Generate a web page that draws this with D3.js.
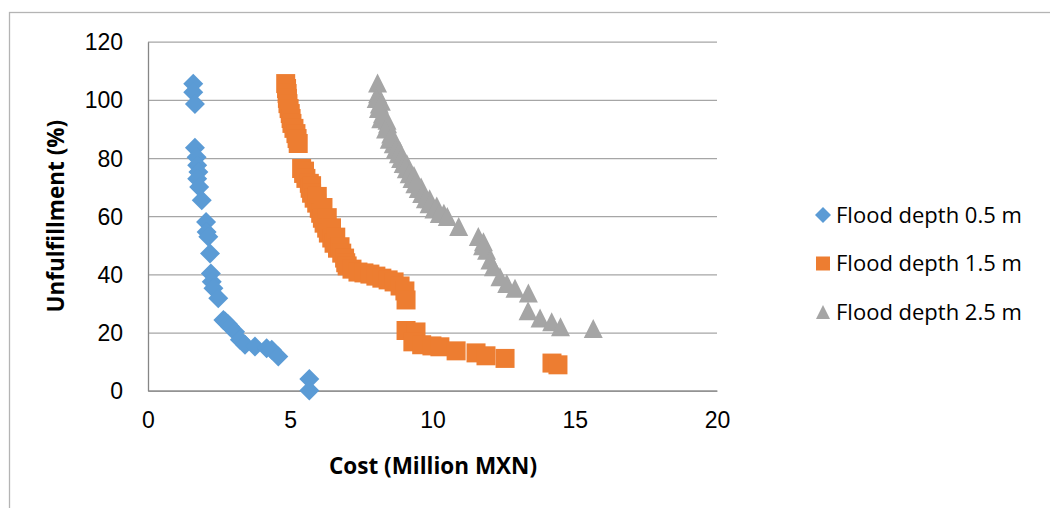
<!DOCTYPE html>
<html>
<head>
<meta charset="utf-8">
<script src="https://cdn.jsdelivr.net/npm/d3@7"></script>
<style>
  body { margin: 0; background: #fff; }
  svg { font-family: "Open Sans", sans-serif; }
</style>
</head>
<body>
<script>
let w = 1050;
let h = 508;

// data
let seriesNames = ["Flood depth 0.5 m", "Flood depth 1.5 m", "Flood depth 2.5 m"];
let seriesColors = ["#5b9bd5", "#ed7d31", "#a5a5a5"];
let xTicks = [0, 5, 10, 15, 20];
let yTicks = [0, 20, 40, 60, 80, 100, 120];

let blueCost = [1.59, 1.59, 1.65, 1.65, 1.71, 1.73, 1.77, 1.73, 1.80, 1.89, 2.04, 2.06, 2.12, 2.18, 2.21,
  2.24, 2.30, 2.47, 2.65, 2.71, 2.80, 2.88, 3.06, 3.23, 3.41, 3.76, 4.17, 4.35, 4.58, 5.67, 5.67];
let blueUnf = [105.5, 102.6, 98.6, 83.5, 80.3, 77.5, 75.2, 72.9, 70.0, 65.5, 58.0, 54.6, 52.9, 47.2, 40.3,
  37.5, 35.2, 31.8, 24.3, 23.8, 23.0, 22.1, 20.3, 17.5, 15.8, 15.2, 14.6, 14.1, 11.8, 4.0, 0.1];

let orangeCost = [4.84, 4.87, 4.89, 4.90, 4.92, 4.96, 5.00, 5.03, 5.06, 5.13, 5.20, 5.24, 5.28,
  5.40, 5.47, 5.50, 5.55, 5.67, 5.70, 5.75, 5.75, 5.84, 5.93, 5.95, 6.02, 6.07, 6.15, 6.13, 6.19,
  6.30, 6.28, 6.34, 6.45, 6.46, 6.54, 6.60, 6.66, 6.75, 6.81, 6.91, 6.95, 7.00, 7.17, 7.38, 7.59,
  7.80, 8.01, 8.22, 8.44, 8.65, 8.86, 9.03, 9.07,
  9.07, 9.42, 9.31, 9.62, 9.98, 10.26, 10.83, 11.53, 11.88, 12.55, 14.20, 14.41];
let orangeUnf = [105.6, 103.9, 102.2, 100.5, 98.7, 97.0, 95.3, 93.6, 91.9, 90.2, 88.4, 86.7, 85.0,
  76.4, 74.7, 75.5, 73.0, 71.3, 69.6, 70.5, 67.9, 66.2, 64.5, 66.8, 62.7, 61.0, 63.0, 59.3, 57.6,
  59.5, 55.9, 54.2, 56.0, 52.5, 50.7, 52.8, 49.0, 49.5, 47.3, 45.6, 44.0, 42.9, 41.8, 40.8, 40.5,
  40.1, 39.4, 38.7, 38.1, 37.4, 36.0, 34.3, 31.2,
  20.7, 20.2, 16.8, 15.8, 15.4, 15.1, 13.7, 13.0, 12.0, 11.1, 9.5, 8.9];

let grayCost = [8.07, 8.07, 8.02, 8.13, 8.20, 8.10, 8.24, 8.18, 8.42, 8.40, 8.35, 8.53, 8.48, 8.62,
  8.62, 8.70, 8.80, 8.85, 8.88, 8.97, 9.10, 9.08, 9.18, 9.28, 9.35, 9.38, 9.50, 9.60, 9.62, 9.75,
  9.90, 9.88, 10.05, 10.15, 10.24, 10.40, 10.52, 10.92, 11.61,
  11.79, 11.76, 11.90, 12.02, 12.14, 12.37, 12.61, 12.90, 13.37, 13.36, 13.78, 14.19, 14.50, 15.65];
let grayUnf = [105.8, 102.1, 100.5, 98.6, 99.5, 97.0, 95.2, 93.5, 91.8, 93.0, 90.0, 88.3, 86.5, 84.9,
  87.0, 83.2, 81.5, 82.5, 79.8, 78.1, 78.0, 76.3, 74.6, 73.0, 74.0, 71.2, 69.5, 70.0, 67.8, 66.0,
  66.0, 64.3, 62.5, 63.5, 60.9, 61.0, 59.9, 56.5, 53.0,
  51.2, 49.8, 48.3, 44.9, 42.6, 39.2, 36.9, 35.2, 33.6, 27.5, 25.0, 23.7, 22.0, 21.4];

let margin = { left: 148, right: 717, top: 41.7, bottom: 390.7 };

document.addEventListener('DOMContentLoaded', function() {
  showGraph();
});

// marker path centred on 0,0
function markerPath(kind, s) {
  let r = s / 2;
  if (kind == 0) return "M0," + (-r - 1) + "L" + (r + 1) + ",0L0," + (r + 1) + "L" + (-r - 1) + ",0Z";
  if (kind == 1) return "M" + (-r) + "," + (-r) + "H" + r + "V" + r + "H" + (-r) + "Z";
  return "M0," + (-r) + "L" + r + "," + r + "L" + (-r) + "," + r + "Z";
}

function showGraph() {
  let xScale = d3.scaleLinear().domain([0, 20]).range([margin.left, margin.right]);
  let yScale = d3.scaleLinear().domain([0, 120]).range([margin.bottom, margin.top]);

  let svg = d3.select("body")
    .append("svg")
    .attr("width", w)
    .attr("height", h);

  // chart frame
  svg.append("rect")
    .attr("x", 9.5)
    .attr("y", 12.5)
    .attr("width", w + 20)
    .attr("height", h + 20)
    .attr("fill", "none")
    .attr("stroke", "#b4b4b4")
    .attr("stroke-width", 1.3);

  // gridlines
  let grid = d3.axisLeft(yScale).tickValues(yTicks).tickSize(-(margin.right - margin.left)).tickFormat("");
  svg.append("g")
    .attr("class", "grid")
    .attr("transform", "translate(" + margin.left + ",0)")
    .call(grid)
    .call(g => g.select(".domain").remove())
    .call(g => g.selectAll("line").attr("stroke", "#a6a6a6").attr("stroke-width", 1.2));

  let yAxis = d3.axisLeft(yScale).tickValues(yTicks).tickSize(0).tickPadding(25);
  svg.append("g")
    .attr("id", "y-axis")
    .attr("transform", "translate(" + margin.left + ",0)")
    .call(yAxis)
    .call(g => g.select(".domain").attr("stroke", "#868686").attr("stroke-width", 1.3))
    .call(g => g.selectAll("text").attr("fill", "#000").style("font-size", "23px").attr("dy", "0.35em"));

  let xAxis = d3.axisBottom(xScale).tickValues(xTicks).tickSize(0).tickPadding(21);
  svg.append("g")
    .attr("id", "x-axis")
    .attr("transform", "translate(0," + margin.bottom + ")")
    .call(xAxis)
    .call(g => g.select(".domain").attr("stroke", "#868686").attr("stroke-width", 1.3))
    .call(g => g.selectAll("text").attr("fill", "#000").style("font-size", "23px"));

  svg.append("text")
    .attr("x", 433)
    .attr("y", 474)
    .attr("text-anchor", "middle")
    .style("font-size", "22.5px")
    .style("font-weight", "bold")
    .text("Cost (Million MXN)");

  svg.append("text")
    .attr("transform", "translate(64," + ((margin.top + margin.bottom) / 2) + ") rotate(-90)")
    .attr("text-anchor", "middle")
    .style("font-size", "22.5px")
    .style("font-weight", "bold")
    .text("Unfulfillment (%)");

  let series = [
    { cost: blueCost, unf: blueUnf, size: 18 },
    { cost: orangeCost, unf: orangeUnf, size: 19 },
    { cost: grayCost, unf: grayUnf, size: 19 }
  ];

  series.forEach(function(s, k) {
    svg.append("g")
      .selectAll("path")
      .data(s.cost.map((c, i) => [c, s.unf[i]]))
      .enter()
      .append("path")
      .attr("d", markerPath(k, s.size))
      .attr("transform", d => "translate(" + xScale(d[0]) + "," + yScale(d[1]) + ")")
      .attr("fill", seriesColors[k]);
  });

  // legend
  let legend = svg.append("g").attr("id", "legend")
    .selectAll("g")
    .data(seriesNames)
    .enter()
    .append("g")
    .attr("transform", (d, i) => "translate(0," + (215 + i * 48.5) + ")");
  legend.append("path")
    .attr("d", (d, i) => markerPath(i, 14))
    .attr("transform", "translate(823,0)")
    .attr("fill", (d, i) => seriesColors[i]);
  legend.append("text")
    .attr("x", 836)
    .attr("dy", "0.35em")
    .style("font-size", "22px")
    .text(d => d);
}
</script>
</body>
</html>
